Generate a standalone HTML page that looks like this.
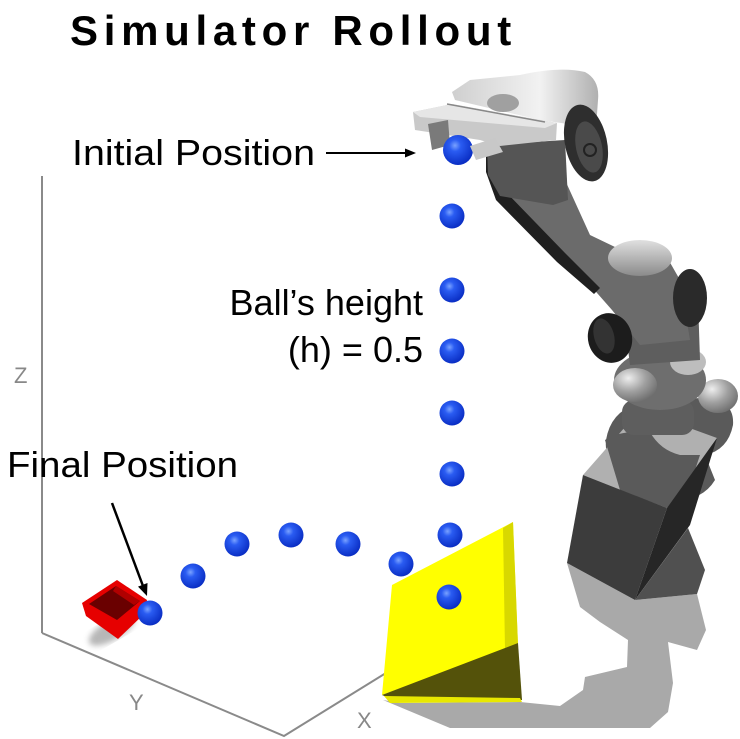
<!DOCTYPE html>
<html><head><meta charset="utf-8"><style>
html,body{margin:0;padding:0;background:#fff;width:740px;height:739px;overflow:hidden;}
svg{display:block;}
text{font-family:"Liberation Sans",Arial,sans-serif;}
</style></head><body>
<svg width="740" height="739" viewBox="0 0 740 739" xmlns="http://www.w3.org/2000/svg">
<defs>
<radialGradient id="ball" cx="0.4" cy="0.35" r="0.65">
<stop offset="0" stop-color="#7aa2ff"/>
<stop offset="0.3" stop-color="#2a5cf2"/>
<stop offset="1" stop-color="#0a2ec4"/>
</radialGradient>
<linearGradient id="house" x1="0" y1="0" x2="1" y2="0">
<stop offset="0" stop-color="#cfcfcf"/><stop offset="0.6" stop-color="#f2f2f2"/><stop offset="1" stop-color="#b0b0b0"/>
</linearGradient>
<radialGradient id="blob" cx="0.35" cy="0.3" r="0.8">
<stop offset="0" stop-color="#eeeeee"/><stop offset="0.5" stop-color="#a0a0a0"/><stop offset="1" stop-color="#666"/>
</radialGradient>
<linearGradient id="elb" x1="0" y1="0" x2="0" y2="1">
<stop offset="0" stop-color="#e0e0e0"/><stop offset="1" stop-color="#8a8a8a"/>
</linearGradient>
<filter id="blur"><feGaussianBlur stdDeviation="3"/></filter>
</defs>

<!-- Title -->
<text x="70" y="45" font-size="42" font-weight="bold" letter-spacing="5.7" fill="#000">Simulator Rollout</text>

<!-- axes -->
<g stroke="#8a8a8a" stroke-width="2" fill="none">
<line x1="42" y1="176" x2="42" y2="633"/>
<polyline points="42,633 284,736 386,673"/>
</g>
<text x="14" y="383" font-size="22" fill="#888">Z</text>
<text x="129" y="710" font-size="22" fill="#888">Y</text>
<text x="357" y="728" font-size="22" fill="#888">X</text>

<!-- shadow -->
<polygon fill="#a9a9a9" points="383,700 400,703 520,702 560,706 583,690 585,677 627,667 628,640 600,622 580,607 567,563 635,600 697,594 706,630 697,650 668,642 673,683 668,712 650,728 450,728"/>

<!-- robot base blob above box -->
<path fill="#5a5a5a" d="M606,440 Q612,405 650,402 L700,398 Q735,398 733,425 Q728,450 705,455 L715,480 Q700,505 660,500 Q630,490 620,470 Q604,460 606,440 Z"/>
<!-- box -->
<polygon fill="#b0b0b0" points="583,475 640,410 717,438 667,508"/>
<path fill="#5a5a5a" d="M605,440 Q620,430 650,432 Q660,450 680,455 L700,455 L690,485 L667,508 L620,490 Z"/>
<polygon fill="#3c3c3c" points="583,475 667,508 635,600 567,563"/>
<polygon fill="#262626" points="667,508 717,438 690,525 635,600"/>
<polygon fill="#505050" points="635,600 688,528 705,570 697,594"/>

<!-- forearm / lower arm -->
<rect x="622" y="400" width="72" height="35" rx="12" fill="#5e5e5e"/>
<ellipse cx="718" cy="396" rx="20" ry="17" fill="url(#blob)"/>
<ellipse cx="660" cy="380" rx="46" ry="30" fill="#6e6e6e"/>
<ellipse cx="635" cy="385" rx="22" ry="17" fill="url(#blob)"/>
<ellipse cx="688" cy="362" rx="18" ry="13" fill="#bdbdbd"/>
<path fill="#5e5e5e" d="M620,285 L672,270 L698,300 L700,360 L630,365 Z"/>

<!-- upper link -->
<polygon fill="#6b6b6b" points="488,150 560,145 565,180 590,235 615,247 660,245 680,280 690,340 640,345 612,310 590,285 560,258 500,195 488,170"/>
<ellipse cx="640" cy="258" rx="32" ry="18" fill="url(#elb)"/>
<polygon fill="#1f1f1f" points="486,140 500,140 506,192 565,253 600,288 594,294 557,262 496,200 486,172"/>
<ellipse cx="690" cy="298" rx="17" ry="29" fill="#2a2a2a"/>
<ellipse cx="610" cy="338" rx="22" ry="25" transform="rotate(-15 610 338)" fill="#1c1c1c"/>
<ellipse cx="604" cy="336" rx="10" ry="18" transform="rotate(-15 604 336)" fill="#333"/>

<!-- gripper -->
<path fill="url(#house)" d="M452,92 L470,80 L520,75 Q560,66 585,72 Q600,80 598,100 L596,128 L540,120 L455,100 Z"/>
<ellipse cx="503" cy="103" rx="16" ry="9" fill="#a0a0a0"/>
<path fill="#555" d="M487,145 L565,140 L568,200 L553,205 L500,196 L488,175 Z"/>
<polygon fill="#c9c9c9" points="413,112 452,104 557,123 556,140 500,146 480,140 415,130"/>
<polygon fill="#e6e6e6" points="413,112 452,104 557,123 545,128 420,117"/>
<line x1="447" y1="104" x2="545" y2="122" stroke="#888" stroke-width="1.5"/>
<ellipse cx="586" cy="143" rx="21" ry="39" transform="rotate(-12 586 143)" fill="#2e2e2e"/>
<ellipse cx="589" cy="147" rx="13" ry="26" transform="rotate(-12 589 147)" fill="#4a4a4a"/>
<circle cx="590" cy="150" r="6" fill="none" stroke="#222" stroke-width="2"/>
<polygon fill="#7a7a7a" points="428,124 448,120 450,145 432,150"/>
<circle cx="458" cy="150" r="15" fill="url(#ball)"/>
<polygon fill="#c8c8c8" points="470,146 495,138 503,152 476,160"/>

<!-- yellow wedge -->
<polygon fill="#ffff00" points="392,585 513,522 518,645 382,695"/>
<polygon fill="#d8d800" points="503,528 513,522 518,645 505,650"/>
<polygon fill="#54520a" points="382,695 518,643 522,700 398,702"/>
<polygon fill="#e8e800" points="384,696 520,698 522,702 390,703"/>

<!-- red box -->
<ellipse cx="112" cy="630" rx="26" ry="10" transform="rotate(-30 112 630)" fill="#999" opacity="0.7" filter="url(#blur)"/>
<polygon fill="#e60000" points="82,603 117,580 147,600 144,614 118,639 86,616"/>
<polygon fill="#6a0000" points="89,604 116,586 140,601 117,620"/>
<polygon fill="#b00000" points="116,586 140,601 134,605 113,591"/>

<!-- balls -->
<g fill="url(#ball)">
<circle cx="452" cy="216" r="12.5"/>
<circle cx="452" cy="290" r="12.5"/>
<circle cx="452" cy="351" r="12.5"/>
<circle cx="452" cy="413" r="12.5"/>
<circle cx="452" cy="474" r="12.5"/>
<circle cx="450" cy="535" r="12.5"/>
<circle cx="401" cy="564" r="12.5"/>
<circle cx="449" cy="597" r="12.5"/>
<circle cx="348" cy="544" r="12.5"/>
<circle cx="291" cy="535" r="12.5"/>
<circle cx="237" cy="544" r="12.5"/>
<circle cx="193" cy="576" r="12.5"/>
<circle cx="150" cy="613" r="12.5"/>
</g>

<!-- labels -->
<text x="72" y="165" font-size="36" fill="#000" textLength="243" lengthAdjust="spacingAndGlyphs">Initial Position</text>
<line x1="326" y1="153" x2="406" y2="153" stroke="#000" stroke-width="2"/>
<polygon points="405,148.5 416,153 405,157.5" fill="#000"/>

<text x="423" y="315" font-size="36" fill="#000" text-anchor="end">Ball’s height</text>
<text x="423" y="362" font-size="36" fill="#000" text-anchor="end">(h) = 0.5</text>

<text x="7" y="477" font-size="36" fill="#000" textLength="231" lengthAdjust="spacingAndGlyphs">Final Position</text>
<line x1="112" y1="503" x2="143" y2="586" stroke="#000" stroke-width="2.5"/>
<polygon points="147,596 138,586.6 147.5,583" fill="#000"/>
</svg>
</body></html>
